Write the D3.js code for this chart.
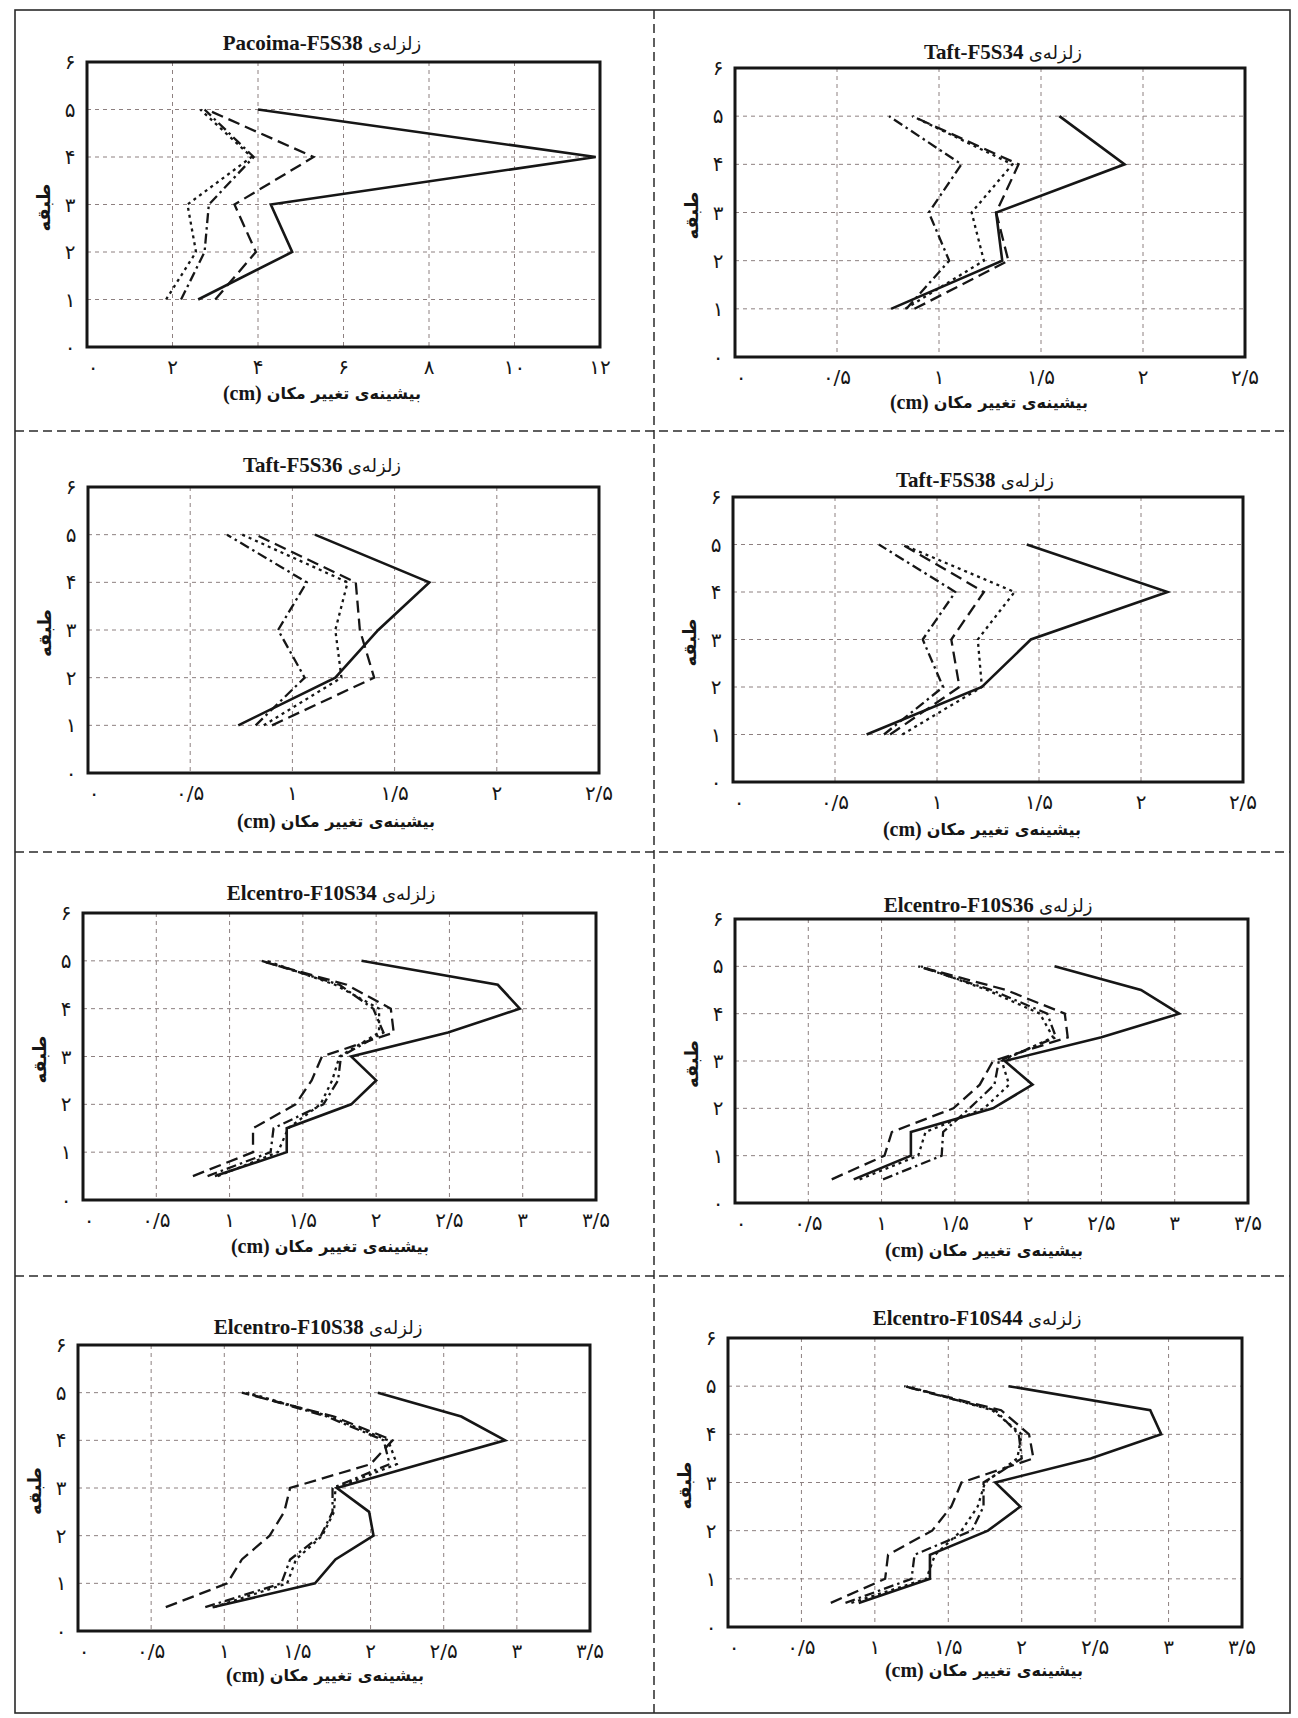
<!DOCTYPE html>
<html>
<head>
<meta charset="utf-8">
<script src="https://cdn.jsdelivr.net/npm/d3@7"></script>
<style>
  html, body { margin: 0; padding: 0; background: #fff; }
  svg { display: block; }
</style>
</head>
<body>
<svg id="page" width="1298" height="1718"></svg>
<script>
// ---------- data ----------
// storey levels at which drifts are sampled
const floorsF5 = [1, 2, 3, 4, 5];
const floorsF10 = [0.5, 1, 1.5, 2, 2.5, 3, 3.5, 4, 4.5, 5];
const floorTicks = [0, 1, 2, 3, 4, 5, 6];

// displacement axis ticks (cm)
const ticksPacoima = [0, 2, 4, 6, 8, 10, 12];
const ticksTaft = [0, 0.5, 1, 1.5, 2, 2.5];
const ticksElcentro = [0, 0.5, 1, 1.5, 2, 2.5, 3, 3.5];

// line styles of the four series, in the order the values are stored
const seriesKinds = ["solid", "dashed", "dashdot", "dotted"];

const titles = [
  "Pacoima-F5S38", "Taft-F5S34", "Taft-F5S36", "Taft-F5S38",
  "Elcentro-F10S34", "Elcentro-F10S36", "Elcentro-F10S38", "Elcentro-F10S44"
];

// maximum displacement per storey: [solid, dashed, dash-dot, dotted]
const pacoimaF5S38 = [
  [2.6, 4.8, 4.3, 11.9, 4.0],
  [3.0, 3.95, 3.45, 5.3, 2.8],
  [2.2, 2.75, 2.85, 3.9, 2.75],
  [1.85, 2.55, 2.35, 3.85, 2.65]
];
const taftF5S34 = [
  [0.765, 1.31, 1.28, 1.91, 1.59],
  [0.88, 1.34, 1.28, 1.39, 0.87],
  [0.84, 1.05, 0.95, 1.11, 0.755],
  [0.835, 1.22, 1.16, 1.36, 0.87]
];
const taftF5S36 = [
  [0.735, 1.21, 1.42, 1.67, 1.11],
  [0.90, 1.40, 1.33, 1.31, 0.82],
  [0.82, 1.06, 0.93, 1.07, 0.68],
  [0.86, 1.24, 1.21, 1.27, 0.755]
];
const taftF5S38 = [
  [0.655, 1.22, 1.46, 2.13, 1.44],
  [0.77, 1.11, 1.07, 1.23, 0.83],
  [0.74, 1.03, 0.93, 1.09, 0.715],
  [0.83, 1.22, 1.20, 1.38, 0.83]
];
const elcentroF10S34 = [
  [0.90, 1.39, 1.39, 1.83, 2.00, 1.83, 2.49, 2.98, 2.83, 1.90],
  [0.75, 1.16, 1.16, 1.45, 1.56, 1.63, 2.12, 2.10, 1.80, 1.21],
  [0.85, 1.28, 1.30, 1.64, 1.74, 1.76, 2.05, 1.98, 1.75, 1.22],
  [0.92, 1.33, 1.40, 1.62, 1.70, 1.75, 2.02, 2.02, 1.72, 1.25]
];
const elcentroF10S36 = [
  [0.81, 1.20, 1.20, 1.76, 2.03, 1.84, 2.50, 3.03, 2.77, 2.18],
  [0.66, 1.02, 1.07, 1.49, 1.67, 1.76, 2.27, 2.25, 1.85, 1.25],
  [1.01, 1.41, 1.42, 1.60, 1.77, 1.80, 2.19, 2.13, 1.75, 1.25],
  [0.85, 1.25, 1.30, 1.70, 1.87, 1.82, 2.17, 2.08, 1.72, 1.27]
];
const elcentroF10S38 = [
  [0.92, 1.62, 1.76, 2.02, 1.99, 1.77, 2.34, 2.92, 2.62, 2.05],
  [0.60, 1.02, 1.12, 1.31, 1.41, 1.45, 2.00, 2.15, 1.75, 1.12],
  [0.87, 1.39, 1.45, 1.66, 1.74, 1.74, 2.13, 2.09, 1.70, 1.14],
  [0.93, 1.43, 1.49, 1.67, 1.75, 1.76, 2.18, 2.12, 1.72, 1.16]
];
const elcentroF10S44 = [
  [0.89, 1.375, 1.375, 1.77, 1.99, 1.82, 2.47, 2.95, 2.875, 1.91],
  [0.70, 1.07, 1.09, 1.39, 1.52, 1.59, 2.08, 2.05, 1.86, 1.20],
  [0.80, 1.25, 1.27, 1.66, 1.74, 1.74, 2.00, 1.98, 1.82, 1.20],
  [0.84, 1.35, 1.41, 1.59, 1.70, 1.75, 1.97, 2.00, 1.80, 1.22]
];

// ---------- layout ----------
const panels = [
  { title: titles[0], values: pacoimaF5S38,   floors: floorsF5,  ticks: ticksPacoima,  box: [87, 62, 600, 347],     titleX: 322, titleY: 43,   labelX: 322, labelY: 393 },
  { title: titles[1], values: taftF5S34,      floors: floorsF5,  ticks: ticksTaft,     box: [735, 68, 1245, 357],   titleX: 1003, titleY: 52,  labelX: 989, labelY: 402 },
  { title: titles[2], values: taftF5S36,      floors: floorsF5,  ticks: ticksTaft,     box: [88, 487, 599, 773],    titleX: 322, titleY: 465,  labelX: 336, labelY: 821 },
  { title: titles[3], values: taftF5S38,      floors: floorsF5,  ticks: ticksTaft,     box: [733, 497, 1243, 782],  titleX: 975, titleY: 480,  labelX: 982, labelY: 829 },
  { title: titles[4], values: elcentroF10S34, floors: floorsF10, ticks: ticksElcentro, box: [83, 913, 596, 1200],   titleX: 331, titleY: 893,  labelX: 330, labelY: 1246 },
  { title: titles[5], values: elcentroF10S36, floors: floorsF10, ticks: ticksElcentro, box: [735, 919, 1248, 1203], titleX: 988, titleY: 905,  labelX: 984, labelY: 1250 },
  { title: titles[6], values: elcentroF10S38, floors: floorsF10, ticks: ticksElcentro, box: [78, 1345, 590, 1631],  titleX: 318, titleY: 1327, labelX: 325, labelY: 1675 },
  { title: titles[7], values: elcentroF10S44, floors: floorsF10, ticks: ticksElcentro, box: [728, 1338, 1242, 1627], titleX: 977, titleY: 1318, labelX: 984, labelY: 1670 }
];

const dashFor = {
  solid: null,
  dashed: "12,6",
  dashdot: "10,4,2.5,4",
  dotted: "3,4"
};
const widthFor = { solid: 2.6, dashed: 2.3, dashdot: 2.3, dotted: 2.3 };

const INK = "#161616";
const GRID = "#8d8080";
const LATIN = "'Liberation Serif', 'DejaVu Serif', serif";
const PERSIAN = "'DejaVu Sans', sans-serif";

// Persian digits with "/" as decimal separator
const faDigits = "۰۱۲۳۴۵۶۷۸۹";
function fa(n) {
  return String(n).replace(".", "/").replace(/\d/g, d => faDigits[+d]);
}

const svg = d3.select("#page");

// ---------- page frame and dividers ----------
const frame = svg.append("g").attr("fill", "none").attr("stroke", "#2a2a2a");
frame.append("rect")
  .attr("x", 15).attr("y", 10).attr("width", 1275).attr("height", 1703)
  .attr("stroke-width", 1.6);
frame.append("line")
  .attr("x1", 654).attr("x2", 654).attr("y1", 10).attr("y2", 1713)
  .attr("stroke-width", 1.5).attr("stroke-dasharray", "9,5");
[431, 852, 1276].forEach(y => {
  frame.append("line")
    .attr("x1", 15).attr("x2", 1290).attr("y1", y).attr("y2", y)
    .attr("stroke-width", 1.5).attr("stroke-dasharray", "9,5");
});

// ---------- panels ----------
panels.forEach(p => {
  const [L, T, R, B] = p.box;
  const xMax = p.ticks[p.ticks.length - 1];
  const x = d3.scaleLinear().domain([0, xMax]).range([L, R]);
  const y = d3.scaleLinear().domain([0, 6]).range([B, T]);
  const g = svg.append("g");

  // grid
  const grid = g.append("g")
    .attr("stroke", GRID).attr("stroke-width", 1).attr("stroke-dasharray", "4,4");
  grid.selectAll("line.v")
    .data(p.ticks.slice(1, -1))
    .join("line").attr("class", "v")
    .attr("x1", d => x(d)).attr("x2", d => x(d))
    .attr("y1", T).attr("y2", B);
  grid.selectAll("line.h")
    .data(floorTicks.slice(1, -1))
    .join("line").attr("class", "h")
    .attr("x1", L).attr("x2", R)
    .attr("y1", d => y(d)).attr("y2", d => y(d));

  // series
  const line = d3.line().x(d => x(d[0])).y(d => y(d[1]));
  p.values.forEach((vals, i) => {
    const kind = seriesKinds[i];
    const pts = vals.map((v, k) => [v, p.floors[k]]);
    g.append("path")
      .attr("d", line(pts))
      .attr("fill", "none")
      .attr("stroke", INK)
      .attr("stroke-width", widthFor[kind])
      .attr("stroke-linejoin", "miter")
      .attr("stroke-dasharray", dashFor[kind]);
  });

  // frame of the plot
  g.append("rect")
    .attr("x", L).attr("y", T).attr("width", R - L).attr("height", B - T)
    .attr("fill", "none").attr("stroke", INK).attr("stroke-width", 3);

  // x tick labels
  g.append("g")
    .attr("font-family", PERSIAN).attr("font-size", 20).attr("fill", INK)
    .attr("text-anchor", "middle")
    .selectAll("text")
    .data(p.ticks)
    .join("text")
    .attr("x", (d, k) => x(d) + (k === 0 ? 6 : 0))
    .attr("y", B + 20)
    .attr("dominant-baseline", "central")
    .text(d => fa(d));

  // y tick labels
  g.append("g")
    .attr("font-family", PERSIAN).attr("font-size", 20).attr("fill", INK)
    .attr("text-anchor", "middle")
    .selectAll("text")
    .data(floorTicks)
    .join("text")
    .attr("x", L - 17)
    .attr("y", d => y(d))
    .attr("dominant-baseline", "central")
    .text(d => fa(d));

  // y axis title
  g.append("text")
    .attr("transform", `translate(${L - 44},${y(3) + 3}) rotate(-90)`)
    .attr("text-anchor", "middle").attr("dominant-baseline", "central")
    .attr("font-family", PERSIAN).attr("font-weight", "bold")
    .attr("font-size", 18).attr("fill", INK)
    .text("طبقه");

  // chart title
  const t = g.append("text")
    .attr("x", p.titleX).attr("y", p.titleY)
    .attr("text-anchor", "middle").attr("dominant-baseline", "central")
    .attr("fill", INK);
  t.append("tspan")
    .attr("font-family", LATIN).attr("font-weight", "bold").attr("font-size", 21)
    .text(p.title + " ");
  t.append("tspan")
    .attr("font-family", PERSIAN).attr("font-size", 18)
    .text("زلزله‌ی");

  // x axis title
  const xl = g.append("text")
    .attr("x", p.labelX).attr("y", p.labelY)
    .attr("text-anchor", "middle").attr("dominant-baseline", "central")
    .attr("fill", INK);
  xl.append("tspan")
    .attr("font-family", LATIN).attr("font-weight", "bold").attr("font-size", 20)
    .text("(cm) ");
  xl.append("tspan")
    .attr("font-family", PERSIAN).attr("font-weight", "bold").attr("font-size", 16)
    .text("بیشینه‌ی تغییر مکان");
});
</script>
</body>
</html>
